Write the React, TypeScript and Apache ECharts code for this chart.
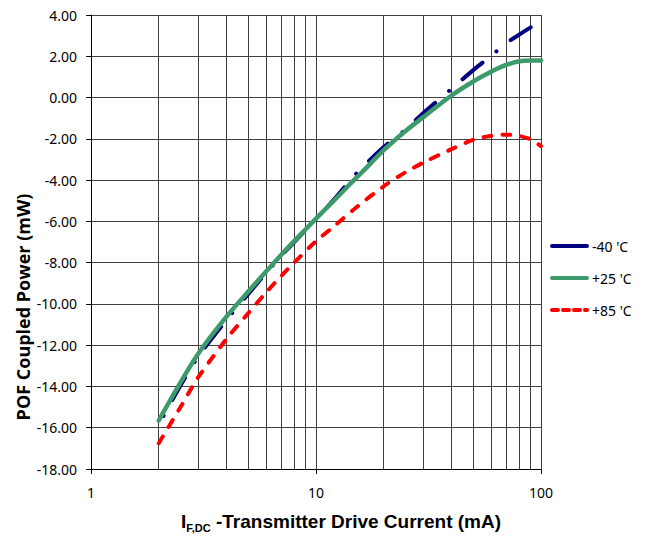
import React, { useEffect, useRef } from "react";
import * as echarts from "echarts";

const seriesNames = ["-40 'C", "+25 'C", "+85 'C"];

const currentMinus40 = [2, 2.5, 3, 4, 5, 6, 7, 8, 10, 12, 15, 20, 25, 30, 40, 50, 60, 70, 80, 90];
const powerMinus40 = [-15.85, -13.95, -12.55, -10.78, -9.52, -8.5, -7.68, -7.0, -5.9, -4.95, -3.72, -2.4, -1.55, -0.75, 0.42, 1.33, 2.02, 2.63, 3.05, 3.4];

const currentPlus25 = [2, 2.5, 3, 4, 5, 6, 7, 8, 9, 10, 12, 14, 16, 20, 25, 30, 40, 50, 60, 70, 80, 90, 100];
const powerPlus25 = [-15.65, -13.8, -12.4, -10.62, -9.4, -8.43, -7.63, -6.96, -6.38, -5.87, -5.0, -4.25, -3.62, -2.55, -1.62, -0.95, 0.1, 0.78, 1.25, 1.58, 1.76, 1.8, 1.8];

const currentPlus85 = [2, 2.5, 3, 4, 5, 6, 7, 8, 10, 12, 15, 20, 25, 30, 40, 50, 60, 70, 80, 90, 100];
const powerPlus85 = [-16.75, -15.0, -13.55, -11.7, -10.45, -9.45, -8.65, -8.0, -6.96, -6.25, -5.35, -4.3, -3.62, -3.15, -2.5, -2.05, -1.85, -1.8, -1.86, -2.03, -2.35];

const minorGridCurrents = [2, 3, 4, 5, 6, 7, 8, 9, 20, 30, 40, 50, 60, 70, 80, 90];

const xAxisMin = 1;
const xAxisMax = 100;
const yAxisMin = -18;
const yAxisMax = 4;
const yAxisInterval = 2;

const yTitle = "POF Coupled Power (mW)";
const xTitleMain = "I";
const xTitleSub = "F,DC";
const xTitleRest = " -Transmitter Drive Current (mA)";

const colors = ["#00007f", "#3c9a6b", "#ff0000"];

const pairs = (xs: number[], ys: number[]) => xs.map((x, i) => [x, ys[i]]);

export default function App() {
  const ref = useRef<HTMLDivElement>(null);
  useEffect(() => {
    if (!ref.current) return;
    const chart = echarts.init(ref.current, undefined, { renderer: "svg" });
    const gridColor = "#404040";
    const labelFont = "Noto Sans";
    chart.setOption({
      animation: false,
      backgroundColor: "#ffffff",
      grid: { left: 91, right: 109, top: 15, bottom: 67, containLabel: false },
      xAxis: {
        type: "log",
        logBase: 10,
        min: xAxisMin,
        max: xAxisMax,
        axisLine: { show: true, onZero: false, lineStyle: { color: "#000", width: 1 } },
        axisTick: { show: true, inside: false, length: 5, lineStyle: { color: "#000" } },
        axisLabel: { color: "#000", fontFamily: labelFont, fontSize: 14, margin: 16 },
        splitLine: { show: true, lineStyle: { color: gridColor, width: 1 } },
        minorTick: { show: false },
      },
      yAxis: {
        type: "value",
        min: yAxisMin,
        max: yAxisMax,
        interval: yAxisInterval,
        axisLine: { show: true, lineStyle: { color: "#000", width: 1 } },
        axisTick: { show: true, inside: false, length: 5, lineStyle: { color: "#000" } },
        axisLabel: {
          color: "#000",
          fontFamily: labelFont,
          fontSize: 14,
          margin: 14,
          formatter: (v: number) => v.toFixed(2),
        },
        splitLine: { show: true, lineStyle: { color: gridColor, width: 1 } },
      },
      legend: {
        orient: "vertical",
        left: 545,
        top: 234,
        itemWidth: 35,
        itemHeight: 14,
        itemGap: 18,
        itemStyle: { opacity: 0 },
        textStyle: { color: "#000", fontFamily: labelFont, fontSize: 14 },
        data: [
          { name: seriesNames[0], itemStyle: { opacity: 0 }, lineStyle: { type: "solid", width: 4, dashOffset: 0 } },
          { name: seriesNames[1], itemStyle: { opacity: 0 }, lineStyle: { type: "solid", width: 4 } },
          { name: seriesNames[2], itemStyle: { opacity: 0 }, lineStyle: { type: [6, 5], width: 4 } },
        ],
      },
      series: [
        {
          name: seriesNames[1],
          type: "line",
          data: pairs(currentPlus25, powerPlus25),
          smooth: 0.3,
          symbol: "none",
          z: 3,
          lineStyle: { color: colors[1], width: 4.5, cap: "round" },
          itemStyle: { color: colors[1] },
          markLine: {
            silent: true,
            symbol: "none",
            z: 1,
            animation: false,
            label: { show: false },
            lineStyle: { color: gridColor, width: 1, type: "solid" },
            emphasis: { disabled: true },
            data: minorGridCurrents.map((v) => ({ xAxis: v })),
          },
        },
        {
          name: seriesNames[0],
          type: "line",
          data: pairs(currentMinus40, powerMinus40),
          smooth: 0.3,
          symbol: "none",
          z: 2,
          lineStyle: { color: colors[0], width: 4, type: [26, 18, 0.1, 18], dashOffset: 34, cap: "round" },
          itemStyle: { color: colors[0] },
        },
        {
          name: seriesNames[2],
          type: "line",
          data: pairs(currentPlus85, powerPlus85),
          smooth: 0.3,
          symbol: "none",
          z: 3,
          lineStyle: { color: colors[2], width: 4, type: [8, 11], cap: "round" },
          itemStyle: { color: colors[2] },
        },
      ],
      graphic: [
        {
          type: "text",
          x: 23,
          y: 307,
          rotation: Math.PI / 2,
          style: {
            text: yTitle,
            font: "bold 18px 'Open Sans'",
            fill: "#000",
            align: "center",
            verticalAlign: "middle",
          },
        },
        {
          type: "text",
          x: 341,
          y: 521,
          style: {
            text: `{a|${xTitleMain}}{b|${xTitleSub}}{a|${xTitleRest}}`,
            align: "center",
            verticalAlign: "middle",
            fill: "#000",
            rich: {
              a: { fontFamily: "Liberation Sans", fontWeight: "bold", fontSize: 19, lineHeight: 24, fill: "#000" },
              b: { fontFamily: "Liberation Sans", fontWeight: "bold", fontSize: 11, lineHeight: 11, verticalAlign: "bottom", fill: "#000" },
            },
          },
        },
      ],
    });
    return () => chart.dispose();
  }, []);
  return (
    <div
      ref={ref}
      style={{ position: "fixed", left: 0, top: 0, width: 650, height: 536, background: "#fff" }}
    />
  );
}
